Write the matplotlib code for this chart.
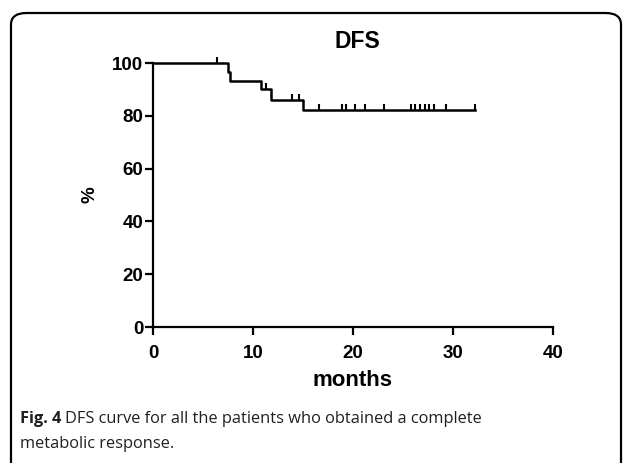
import matplotlib
matplotlib.use("Agg")

import numpy as np
import matplotlib.pyplot as plt
from matplotlib.patches import FancyBboxPatch

# Kaplan-Meier steps
step_t = [0, 7.5, 7.7, 10.8, 11.8, 15.0]
step_s = [100, 96.6, 93.1, 90.2, 86.0, 82.1]
end_t = 32.2

# censored patients (months)
cens_t = [6.4, 11.3, 13.9, 14.6, 16.6, 18.9, 19.3, 20.2, 21.2, 23.1,
          25.8, 26.2, 26.7, 27.2, 27.6, 28.1, 29.3, 32.2]

x_ticks = [0, 10, 20, 30, 40]
y_ticks = [0, 20, 40, 60, 80, 100]

plt.rcParams['font.family'] = ['Liberation Sans', 'DejaVu Sans']

fig = plt.figure(figsize=(6.27, 4.63), dpi=100)

# rounded frame around the figure panel
frame = FancyBboxPatch((11 / 627, -0.1), 610 / 627, (463 - 13) / 463 + 0.1,
                       boxstyle="round,pad=0,rounding_size=0.025",
                       transform=fig.transFigure, fill=False,
                       edgecolor='black', linewidth=1.6, clip_on=False)
fig.patches.append(frame)

ax = fig.add_axes([153 / 627, 1 - 327 / 463, 400 / 627, 264 / 463])

xs = step_t + [end_t]
ys = step_s + [step_s[-1]]
ax.step(xs, ys, where='post', color='black', linewidth=1.8, clip_on=False)

# censor marks at current survival level
def level_at(t):
    s = step_s[0]
    for tt, ss in zip(step_t, step_s):
        if t >= tt:
            s = ss
    return s

cens_s = [level_at(t) for t in cens_t]
ax.vlines(cens_t, cens_s, np.array(cens_s) + 2.2, color='black',
          linewidth=1.5, clip_on=False)

ax.set_xlim(0, 40)
ax.set_ylim(0, 100)
ax.set_xticks(x_ticks)
ax.set_yticks(y_ticks)
ax.spines['top'].set_visible(False)
ax.spines['right'].set_visible(False)
for s in ['left', 'bottom']:
    ax.spines[s].set_linewidth(1.6)
ax.tick_params(direction='out', length=6, width=1.6, labelsize=13.5)
ax.tick_params(axis='x', pad=7)
ax.tick_params(axis='y', pad=1)
for lab in ax.get_xticklabels() + ax.get_yticklabels():
    lab.set_fontweight('bold')

ax.set_xlabel('months', fontsize=16, fontweight='bold', labelpad=6)
ax.set_ylabel('%', fontsize=13.5, fontweight='bold', labelpad=10)

fig.text(357 / 627, 1 - 41 / 463, 'DFS', ha='center', va='center',
         fontsize=16.5, fontweight='bold')

# caption
cap_color = '#231f20'
t1 = fig.text(20 / 627, 1 - 423 / 463, 'Fig. 4', fontsize=11.8, fontweight='bold',
              family='Open Sans', color=cap_color, va='baseline')
fig.canvas.draw()
bb = t1.get_window_extent()
fig.text(bb.x1 / 627 + 4 / 627, 1 - 423 / 463,
         'DFS curve for all the patients who obtained a complete',
         fontsize=11.8, family='Open Sans', color=cap_color, va='baseline')
fig.text(20 / 627, 1 - 448 / 463, 'metabolic response.', fontsize=11.8,
         family='Open Sans', color=cap_color, va='baseline')

fig.savefig('out.png', dpi=100)
